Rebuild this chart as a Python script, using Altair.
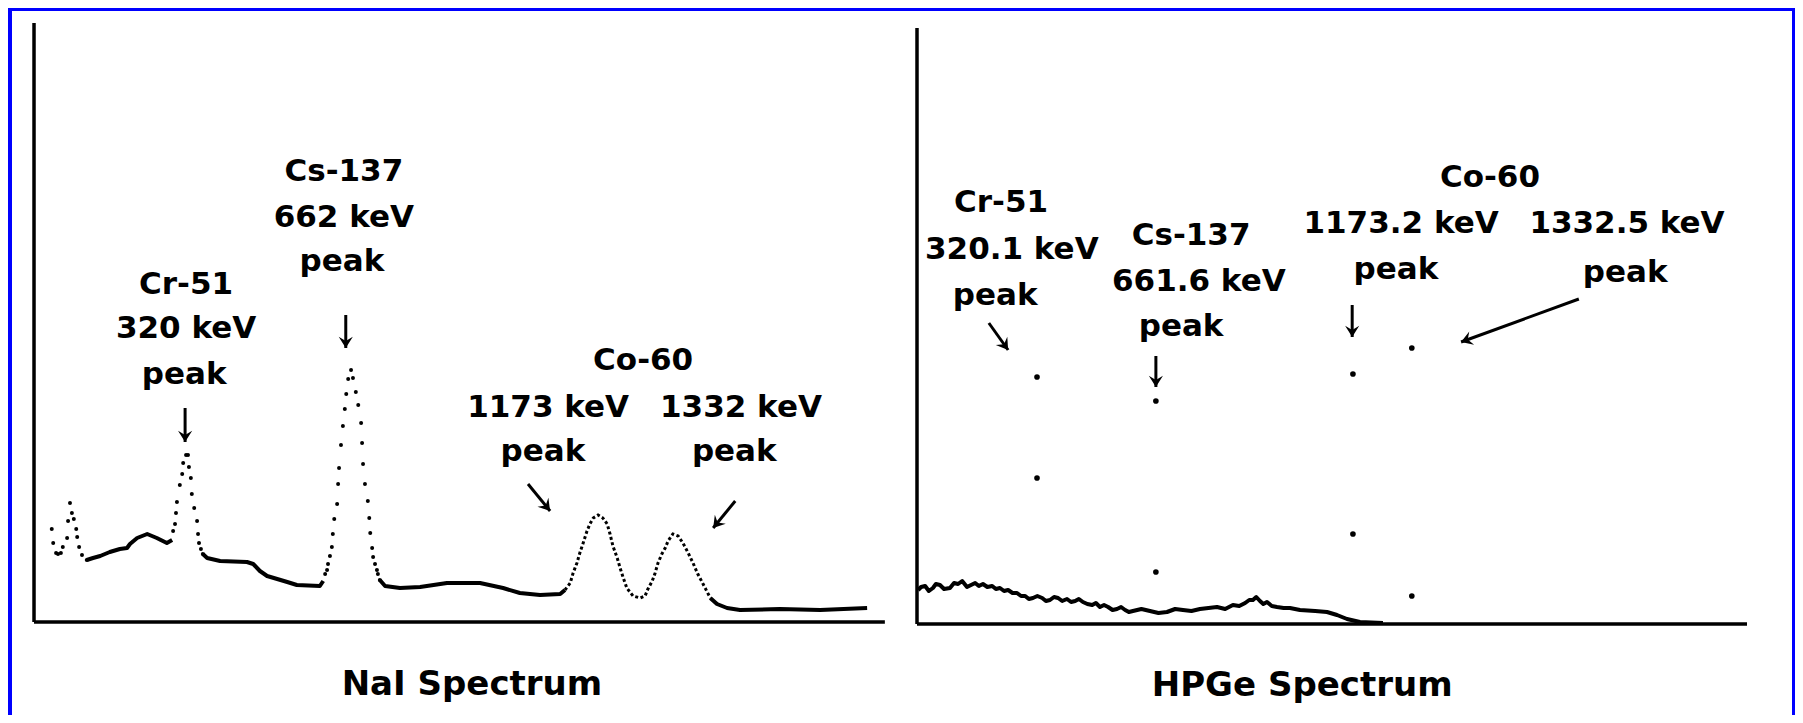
import math
import altair as alt
import pandas as pd

# ---------------- NaI spectrum (energy in keV, relative counts) ----------------
nai_low_kev = [37, 40, 46, 50, 56, 60, 69, 71, 75, 79, 83, 88, 90, 94, 100, 110]
nai_low_cts = [93, 79, 69, 68, 69, 75, 84, 101, 119, 109, 103, 93, 85, 75, 67, 62]

nai_cont1_kev = [110, 123, 138, 158, 179, 194, 200, 215, 236, 256, 277, 288]
nai_cont1_cts = [62, 64, 66, 70, 73, 74, 78, 84, 88, 84, 79, 82]

nai_cr_kev = [290, 294, 296, 298, 304, 309, 311, 317, 321, 323, 327, 329, 334, 340, 342, 344, 348, 352]
nai_cr_cts = [91, 98, 109, 120, 137, 148, 159, 167, 167, 155, 144, 128, 114, 101, 88, 79, 73, 68]

nai_cont2_kev = [352, 361, 388, 444, 457, 471, 486, 507, 528, 548, 596, 603]
nai_cont2_cts = [68, 64, 61, 60, 58, 51, 46, 43, 40, 37, 36, 41]

nai_cs_kev = [607, 611, 613, 617, 621, 623, 626, 632, 634, 636, 640, 644, 648, 651, 655, 661,
              665, 671, 676, 682, 684, 686, 690, 696, 699, 701, 705, 707, 711, 715, 717, 721]
nai_cs_cts = [48, 52, 58, 66, 75, 88, 103, 118, 138, 154, 177, 196, 213, 228, 243, 252,
              244, 230, 217, 199, 179, 158, 138, 121, 104, 89, 74, 65, 58, 52, 48, 42]

nai_cont3_kev = [721, 732, 763, 805, 861, 930, 978, 1013, 1055, 1097, 1107]
nai_cont3_cts = [42, 36, 34, 35, 39, 39, 34, 29, 27, 28, 32]

nai_co_kev = [1107, 1118, 1124, 1132, 1138, 1145, 1153, 1159, 1166, 1176, 1186, 1195, 1201, 1207,
              1216, 1222, 1228, 1236, 1249, 1264, 1274, 1280, 1289, 1295, 1301, 1309, 1316, 1322,
              1332, 1343, 1353, 1364, 1374, 1384, 1395, 1410]
nai_co_cts = [32, 39, 49, 59, 69, 79, 91, 98, 104, 107, 104, 98, 88, 76,
              64, 54, 45, 34, 26, 24, 26, 33, 41, 49, 59, 68, 74, 81,
              88, 86, 79, 69, 59, 48, 38, 24]

nai_cont4_kev = [1410, 1424, 1445, 1472, 1555, 1639, 1737]
nai_cont4_cts = [24, 18, 14, 12, 13, 12, 14]

nai_labels = ["Cr-51", "320 keV", "peak", "Cs-137", "662 keV", "peak",
              "Co-60", "1173 keV", "peak", "1332 keV", "peak"]
nai_label_kev = [317, 317, 313, 646, 646, 642, 1270, 1072, 1061, 1474, 1460]
nai_label_cts = [337, 293, 247, 450, 404, 360, 261, 214, 170, 214, 170]

nai_arrow_kev = [315, 650, 1030, 1462]
nai_arrow_cts = [214, 307, 138, 121]
nai_arrow_kev2 = [315, 650, 1076, 1416]
nai_arrow_cts2 = [180, 274, 111, 94]

nai_axis_top = 599
nai_axis_end = 1774

# ---------------- HPGe spectrum ----------------
hp_cont_kev = [3, 11, 22, 32, 43, 51, 62, 73, 89, 100, 111, 122, 135, 146, 157, 167, 178, 190,
               203, 213, 224, 235, 246, 258, 270, 281, 292, 302, 313, 325, 338, 348, 359, 370,
               381, 392, 405, 416, 427, 437, 448, 460, 473, 483, 494, 505, 516, 528, 540, 551,
               562, 572, 583, 606, 629, 652, 675, 697, 718, 741, 764, 787, 810, 832, 853, 870,
               886, 897, 907, 916, 926, 935, 945, 958, 972, 990, 1007, 1034, 1075, 1107, 1134,
               1161, 1196, 1258]
hp_cont_cts = [34, 37, 38, 33, 36, 40, 39, 35, 36, 41, 40, 43, 37, 39, 41, 38, 40, 37,
               38, 35, 36, 33, 34, 31, 31, 28, 28, 25, 26, 28, 26, 23, 24, 27,
               26, 23, 25, 22, 23, 25, 22, 20, 19, 21, 17, 19, 17, 14, 15, 17,
               14, 12, 13, 15, 13, 11, 12, 15, 14, 13, 15, 16, 17, 15, 19, 18,
               21, 24, 24, 27, 23, 20, 22, 18, 17, 16, 16, 14, 13, 12, 9,
               5, 2, 1]

hp_dot_kev = [324, 324, 645, 645, 1177, 1177, 1336, 1336]
hp_dot_cts = [247, 146, 223, 52, 250, 90, 276, 28]

hp_labels = ["Cr-51", "320.1 keV", "peak", "Cs-137", "661.6 keV", "peak",
             "Co-60", "1173.2 keV", "peak", "1332.5 keV", "peak"]
hp_label_kev = [227, 256, 211, 740, 761, 713, 1547, 1307, 1293, 1917, 1912]
hp_label_cts = [421, 374, 328, 388, 342, 297, 446, 400, 354, 400, 351]

hp_arrow_kev = [194, 645, 1175, 1787]
hp_arrow_cts = [301, 268, 319, 325]
hp_arrow_kev2 = [246, 645, 1175, 1469]
hp_arrow_cts2 = [274, 237, 287, 282]

hp_axis_top = 596
hp_axis_end = 2241

titles = ["NaI Spectrum", "HPGe Spectrum"]
title_kev = [913, 1040]
title_cts = [-63, -62]

# ---------------- styling / layout ----------------
FONT = "DejaVu Sans"
HEAD = "M0,0 L-1,-1.6 L0,-1.0 L1,-1.6 Z"
L_W, R_W, H = 879, 901, 704


def panel(width, xdom, ydom, lines, line_w, dashed, dots, dot_size, labels, lkev, lcts,
          a1k, a1c, a2k, a2c, axis_top, axis_end, title, tk, tc):
    xs = alt.Scale(domain=xdom, nice=False, zero=False)
    ys = alt.Scale(domain=ydom, nice=False, zero=False)
    X = lambda f: alt.X(f, type="quantitative", scale=xs, axis=None)
    Y = lambda f: alt.Y(f, type="quantitative", scale=ys, axis=None)
    px_per_kev = width / (xdom[1] - xdom[0])

    axes = pd.DataFrame({"x": [0, 0], "y": [0, 0], "x2": [0, axis_end], "y2": [axis_top, 0]})
    layers = [
        alt.Chart(axes).mark_rule(color="black", strokeWidth=3.5).encode(
            x=X("x"), y=Y("y"), x2="x2", y2="y2")
    ]

    rows = []
    for i, (k, c) in enumerate(lines):
        for a, b in zip(k, c):
            rows.append({"seg": i, "kev": a, "cts": b})
    layers.append(alt.Chart(pd.DataFrame(rows)).mark_line(
        color="black", strokeWidth=line_w, strokeJoin="round").encode(
        x=X("kev"), y=Y("cts"), detail="seg:N"))

    if dashed is not None:
        layers.append(alt.Chart(pd.DataFrame({"kev": dashed[0], "cts": dashed[1]})).mark_line(
            color="black", strokeWidth=3, strokeDash=[3, 2.5]).encode(x=X("kev"), y=Y("cts")))

    dk, dc = [], []
    for k, c in dots:
        dk += k
        dc += c
    layers.append(alt.Chart(pd.DataFrame({"kev": dk, "cts": dc})).mark_circle(
        color="black", size=dot_size, opacity=1).encode(x=X("kev"), y=Y("cts")))

    layers.append(alt.Chart(pd.DataFrame({"t": labels, "kev": lkev, "cts": lcts})).mark_text(
        font=FONT, fontWeight="bold", fontSize=31, align="center", baseline="middle",
        color="black").encode(x=X("kev"), y=Y("cts"), text="t:N"))

    angs = []
    for k1, c1, k2, c2 in zip(a1k, a1c, a2k, a2c):
        dx = (k2 - k1) * px_per_kev
        dy = -(c2 - c1)
        angs.append(math.degrees(math.atan2(-dx, dy)) % 360)
    arr = pd.DataFrame({"k1": a1k, "c1": a1c, "k2": a2k, "c2": a2c, "ang": angs})
    layers.append(alt.Chart(arr).mark_rule(color="black", strokeWidth=3).encode(
        x=X("k1"), y=Y("c1"), x2="k2", y2="c2"))
    layers.append(alt.Chart(arr).mark_point(
        shape=HEAD, filled=True, size=200, color="black", opacity=1, strokeWidth=0).encode(
        x=X("k2"), y=Y("c2"), angle=alt.Angle("ang:Q", scale=None)))

    layers.append(alt.Chart(pd.DataFrame({"t": [title], "kev": [tk], "cts": [tc]})).mark_text(
        font=FONT, fontWeight="bold", fontSize=34, align="center", baseline="middle",
        color="black").encode(x=X("kev"), y=Y("cts"), text="t:N"))

    return alt.layer(*layers).properties(width=width, height=H)


left = panel(
    L_W, [-45.9, 1786.8], [-93, 611],
    [(nai_cont1_kev, nai_cont1_cts), (nai_cont2_kev, nai_cont2_cts),
     (nai_cont3_kev, nai_cont3_cts), (nai_cont4_kev, nai_cont4_cts)], 4,
    (nai_co_kev, nai_co_cts),
    [(nai_low_kev, nai_low_cts), (nai_cr_kev, nai_cr_cts), (nai_cs_kev, nai_cs_cts)], 16,
    nai_labels, nai_label_kev, nai_label_cts,
    nai_arrow_kev, nai_arrow_cts, nai_arrow_kev2, nai_arrow_cts2,
    nai_axis_top, nai_axis_end, titles[0], title_kev[0], title_cts[0])

right = panel(
    R_W, [-70.2, 2362.5], [-91, 613],
    [(hp_cont_kev, hp_cont_cts)], 4, None,
    [(hp_dot_kev, hp_dot_cts)], 32,
    hp_labels, hp_label_kev, hp_label_cts,
    hp_arrow_kev, hp_arrow_cts, hp_arrow_kev2, hp_arrow_cts2,
    hp_axis_top, hp_axis_end, titles[1], title_kev[1], title_cts[1])

chart = alt.hconcat(left, right, spacing=0).properties(
    background="#0000FF",
    padding={"left": 4, "top": 3, "right": 3, "bottom": 0},
).configure_view(fill="white", strokeWidth=0)

chart.save("out.html", embed_options={"renderer": "svg", "actions": False})
